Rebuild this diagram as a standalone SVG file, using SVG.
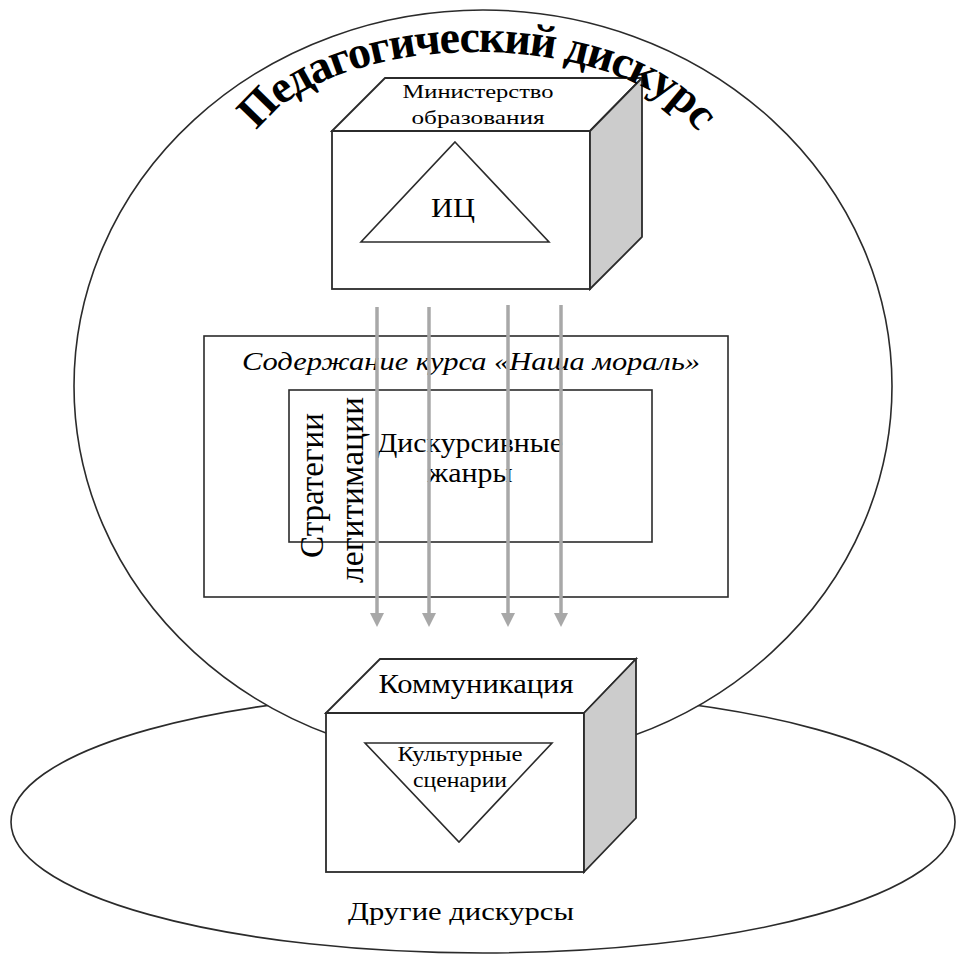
<svg xmlns="http://www.w3.org/2000/svg" width="957" height="955" viewBox="0 0 957 955">
<defs>
<style>
.ln{fill:none;stroke:#2b2b2b;stroke-width:1.6}
.wf{fill:#fff;stroke:#2b2b2b;stroke-width:1.8}
.side{fill:#cccccc;stroke:#2b2b2b;stroke-width:1.8}
.t{font-family:"Liberation Serif","Times New Roman",serif;fill:#000;text-anchor:middle}
.arr{stroke:#a8a8a8;stroke-width:3.5;fill:none}
.ah{fill:#a8a8a8}
</style>
<path id="arcPath" d="M 244,170 A 233,118 0 0 1 710,170"/>
</defs>
<g id="other-discourses">
<ellipse cx="483" cy="822" rx="472" ry="131" class="ln"/>
<text class="t" x="461" y="920" font-size="26" textLength="226" lengthAdjust="spacingAndGlyphs">Другие дискурсы</text>
</g>
<g id="pedagogical-discourse">
<ellipse cx="483" cy="386" rx="409" ry="376" fill="#fff" stroke="#2b2b2b" stroke-width="1.6"/>
</g>
<g id="ministry">
<rect x="332" y="131" width="258" height="158" class="wf"/>
<polygon points="332,131 385,78 642,78 590,131" class="wf"/>
<polygon points="590,131 642,78 642,237 590,289" class="side"/>
<text class="t" x="478" y="98" font-size="19" textLength="151" lengthAdjust="spacingAndGlyphs">Министерство</text>
<text class="t" x="478" y="124" font-size="19" textLength="133" lengthAdjust="spacingAndGlyphs">образования</text>
<polygon points="455,142 549,242 361,242" class="ln"/>
<text class="t" x="453" y="217" font-size="28" textLength="44" lengthAdjust="spacingAndGlyphs">ИЦ</text>
</g>
<g id="course-content">
<rect x="204" y="336" width="524" height="261" class="ln" stroke-width="1.8"/>
<text class="t" x="471" y="370" font-size="25" font-style="italic" textLength="458" lengthAdjust="spacingAndGlyphs">Содержание курса «Наша мораль»</text>
</g>
<g id="discursive-genres">
<rect x="289" y="390" width="363" height="152" class="ln" stroke-width="1.8"/>
<text class="t" x="470" y="452" font-size="27" textLength="186" lengthAdjust="spacingAndGlyphs">Дискурсивные</text>
<text class="t" x="470" y="482" font-size="27" textLength="85" lengthAdjust="spacingAndGlyphs">жанры</text>
</g>
<g id="legitimation-strategies">
<text class="t" font-size="33" transform="translate(323,485.5) rotate(-90)" textLength="145" lengthAdjust="spacingAndGlyphs">Стратегии</text>
<text class="t" font-size="33" transform="translate(363,490) rotate(-90)" textLength="186" lengthAdjust="spacingAndGlyphs">легитимации</text>
</g>
<g id="connectors">
<line x1="377" y1="307" x2="377" y2="614" class="arr"/>
<polygon points="370,613 384,613 377,627" class="ah"/>
<line x1="429" y1="307" x2="429" y2="614" class="arr"/>
<polygon points="422,613 436,613 429,627" class="ah"/>
<line x1="508" y1="305" x2="508" y2="614" class="arr"/>
<polygon points="501,613 515,613 508,627" class="ah"/>
<line x1="561" y1="305" x2="561" y2="614" class="arr"/>
<polygon points="554,613 568,613 561,627" class="ah"/>
</g>
<g id="communication">
<rect x="326" y="713" width="258" height="159" class="wf"/>
<polygon points="326,713 380,659 636,659 584,713" class="wf"/>
<polygon points="584,713 636,659 636,818 584,872" class="side"/>
<text class="t" x="476" y="693" font-size="27" textLength="195" lengthAdjust="spacingAndGlyphs">Коммуникация</text>
<polygon points="365,743 552,743 459,842" class="ln"/>
<text class="t" x="460" y="761" font-size="22" textLength="125" lengthAdjust="spacingAndGlyphs">Культурные</text>
<text class="t" x="460" y="787" font-size="22" textLength="94" lengthAdjust="spacingAndGlyphs">сценарии</text>
</g>
<g id="title">
<text class="t" font-size="46" font-weight="bold" letter-spacing="-1.5"><textPath href="#arcPath" startOffset="50%">Педагогический дискурс</textPath></text>
</g>
</svg>
